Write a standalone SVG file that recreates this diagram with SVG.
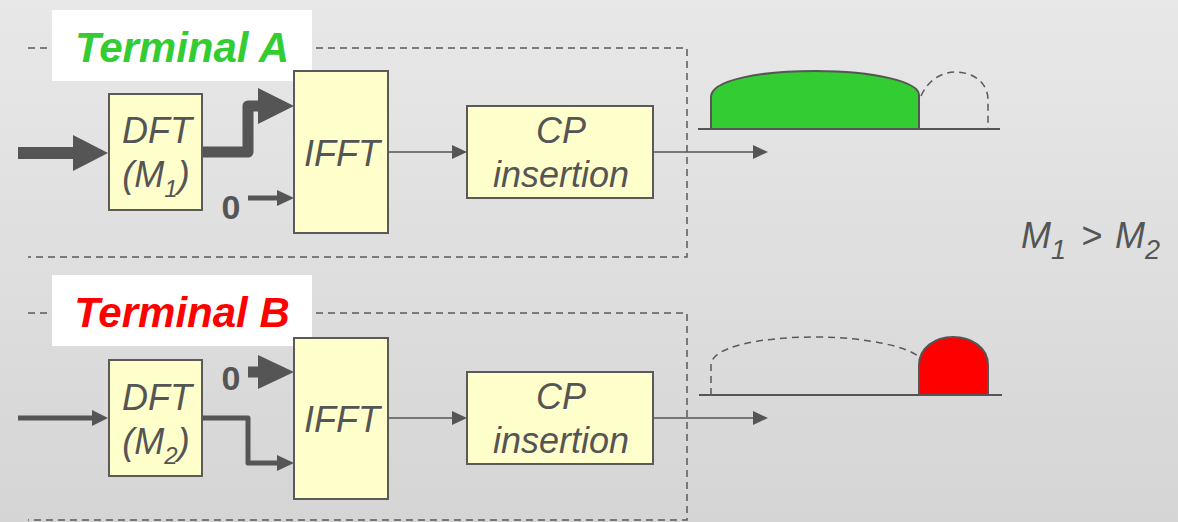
<svg xmlns="http://www.w3.org/2000/svg" width="1178" height="522" viewBox="0 0 1178 522">
<defs>
<linearGradient id="bg" x1="0" y1="0" x2="0" y2="1">
<stop offset="0" stop-color="#e8e8e8"/>
<stop offset="1" stop-color="#d5d5d5"/>
</linearGradient>
<style>
.blk{fill:#ffffcc;stroke:#5a5a5a;stroke-width:2}
.t{font-family:"Liberation Sans",Arial,sans-serif;font-style:italic;font-size:36px;fill:#555}
.z{font-family:"Liberation Sans",Arial,sans-serif;font-weight:bold;font-size:34px;fill:#555}
.lbl{font-family:"Liberation Sans",Arial,sans-serif;font-style:italic;font-weight:bold;font-size:42px}
.dash{fill:none;stroke:#5a5a5a;stroke-width:1.5;stroke-dasharray:7 5}
.ln{fill:none;stroke:#555;stroke-linejoin:round}
.hd{fill:#555}
</style>
</defs>
<rect width="1178" height="522" fill="url(#bg)"/>

<g id="frames">
<path class="dash" d="M28 48 H687 V257 H28"/>
<path class="dash" d="M28 313 H687 V520 H28"/>
</g>

<g id="labelA">
<rect x="52" y="10" width="260" height="71" fill="#fff"/>
<text class="lbl" x="182" y="62" text-anchor="middle" fill="#33cc33">Terminal A</text>
</g>
<g id="labelB">
<rect x="52" y="275" width="260" height="71" fill="#fff"/>
<text class="lbl" x="182" y="327" text-anchor="middle" fill="#ff0000">Terminal B</text>
</g>

<g id="connectors">
<!-- A -->
<path class="ln" d="M18 153 H76" stroke-width="12"/>
<polygon class="hd" points="73,135 108,153 73,171"/>
<path class="ln" d="M202 152 H248 V106 H260" stroke-width="11"/>
<polygon class="hd" points="258,88 294,106 258,124"/>
<path class="ln" d="M248 198 H280" stroke-width="5"/>
<polygon class="hd" points="277,190 294,198 277,206"/>
<path class="ln" d="M388 152 H455" stroke-width="1.6"/>
<polygon class="hd" points="452,145 467,152 452,159"/>
<path class="ln" d="M653 152 H756" stroke-width="1.6"/>
<polygon class="hd" points="753,145 768,152 753,159"/>
<!-- B -->
<path class="ln" d="M18 418 H95" stroke-width="5"/>
<polygon class="hd" points="92,410 108,418 92,426"/>
<path class="ln" d="M202 418 H248 V463 H280" stroke-width="5"/>
<polygon class="hd" points="277,455 294,463 277,471"/>
<path class="ln" d="M248 372 H260" stroke-width="11"/>
<polygon class="hd" points="258,355 294,372 258,389"/>
<path class="ln" d="M388 418 H455" stroke-width="1.6"/>
<polygon class="hd" points="452,411 467,418 452,425"/>
<path class="ln" d="M653 418 H756" stroke-width="1.6"/>
<polygon class="hd" points="753,411 768,418 753,425"/>
</g>

<g id="dftA">
<rect class="blk" x="109" y="94" width="93" height="116"/>
<text class="t" x="157" y="143" text-anchor="middle">DFT</text>
<text class="t" x="156" y="187" text-anchor="middle">(M<tspan font-size="24" dy="10">1</tspan><tspan dy="-10">)</tspan></text>
</g>
<g id="zeroA"><text class="z" x="231" y="219" text-anchor="middle">0</text></g>
<g id="ifftA">
<rect class="blk" x="294" y="71" width="94" height="162"/>
<text class="t" x="342" y="166" text-anchor="middle">IFFT</text>
</g>
<g id="cpA">
<rect class="blk" x="467" y="106" width="186" height="92"/>
<text class="t" x="561" y="143" text-anchor="middle">CP</text>
<text class="t" x="561" y="187" text-anchor="middle">insertion</text>
</g>
<g id="specA">
<path d="M698 129 H1000" stroke="#555" stroke-width="2" fill="none"/>
<path d="M711 129 V97 C711 80 760 71 815 71 C875 71 919 82 919 95 V129 Z" fill="#33cc33" stroke="#555" stroke-width="2"/>
<path class="dash" d="M921 96 C928 80 942 72 955 72 C975 72 988 84 988 100 V129"/>
</g>

<g id="dftB">
<rect class="blk" x="109" y="360" width="93" height="116"/>
<text class="t" x="157" y="410" text-anchor="middle">DFT</text>
<text class="t" x="156" y="454" text-anchor="middle">(M<tspan font-size="24" dy="10">2</tspan><tspan dy="-10">)</tspan></text>
</g>
<g id="zeroB"><text class="z" x="231" y="390" text-anchor="middle">0</text></g>
<g id="ifftB">
<rect class="blk" x="294" y="338" width="94" height="161"/>
<text class="t" x="342" y="432" text-anchor="middle">IFFT</text>
</g>
<g id="cpB">
<rect class="blk" x="467" y="372" width="186" height="92"/>
<text class="t" x="561" y="409" text-anchor="middle">CP</text>
<text class="t" x="561" y="453" text-anchor="middle">insertion</text>
</g>
<g id="specB">
<path d="M699 395 H1002" stroke="#555" stroke-width="2" fill="none"/>
<path class="dash" d="M711 395 V365 C711 347 760 337 815 337 C870 337 910 348 919 357"/>
<path d="M919 395 V365 C919 348 935 337 953 337 C972 337 988 348 988 365 V395 Z" fill="#ff0000" stroke="#555" stroke-width="2"/>
</g>

<g id="relation">
<text class="t" x="1021" y="248" font-size="42">M<tspan font-size="27" dy="11">1</tspan><tspan dy="-11" dx="15">&gt;</tspan><tspan dx="13">M</tspan><tspan font-size="27" dy="11">2</tspan></text>
</g>
</svg>
